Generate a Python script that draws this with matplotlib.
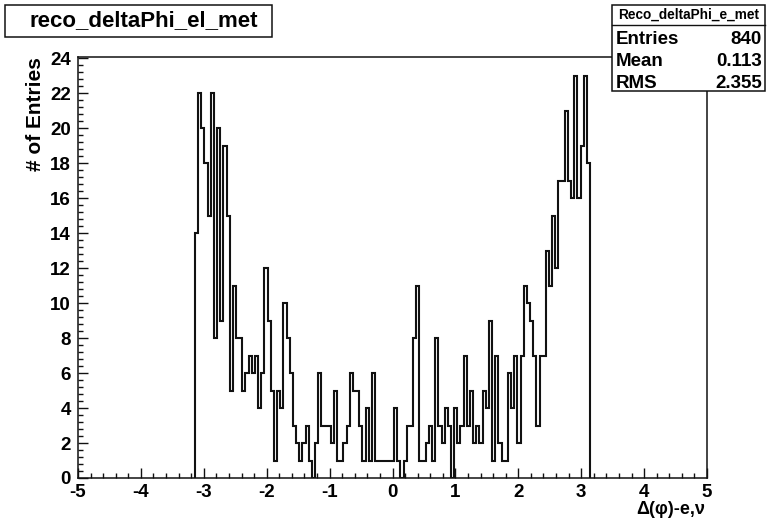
import numpy as np
import matplotlib.pyplot as plt
from matplotlib.patches import Rectangle
from matplotlib.lines import Line2D
from matplotlib.ticker import MultipleLocator

plt.rcParams['font.family'] = ['Liberation Sans', 'DejaVu Sans']
plt.rcParams['axes.unicode_minus'] = False

# bin contents of delta phi(e, met), -pi..pi
counts = [14, 22, 20, 18, 15, 22, 8, 20, 9, 19, 15, 5, 11, 8, 8, 5, 6, 7, 6, 7, 4, 6,
          12, 9, 5, 1, 5, 4, 10, 8, 6, 3, 2, 1, 2, 3, 1, 0, 2, 6, 3, 3, 3,
          2, 5, 1, 1, 2, 3, 6, 5, 5, 3, 1, 4, 1, 6, 1, 1, 1, 1, 1, 1,
          4, 1, 0, 1, 3, 3, 8, 11,
          1, 1, 2, 3, 1, 8, 3, 2, 4, 3, 0, 4, 2, 3, 7, 3, 5, 2, 3, 2, 5, 4, 9, 1, 7, 2,
          1, 1, 6, 4, 7, 2,
          7, 11, 10, 9, 7, 3, 7, 7, 13, 11, 15, 12, 17, 17, 21, 17, 16, 23, 16, 19, 23, 18]
edges = np.linspace(-np.pi, np.pi, len(counts) + 1)

hist_name = 'reco_deltaPhi_el_met'
stats_name = 'Reco_deltaPhi_e_met'
stats = [('Entries', '840'), ('Mean', '0.113'), ('RMS', '2.355')]

W, H = 768, 520
fig = plt.figure(figsize=(W / 100, H / 100), dpi=100)
fig.patch.set_facecolor('white')

ax = fig.add_axes([78 / W, 1 - 478 / H, 629 / W, 421 / H])
ax.stairs(counts, edges, color='#111111', linewidth=1.5, baseline=0)
ax.set_xlim(-5, 5)
ax.set_ylim(0, 24.06)

ax.xaxis.set_major_locator(MultipleLocator(1))
ax.xaxis.set_minor_locator(MultipleLocator(0.2))
ax.yaxis.set_major_locator(MultipleLocator(2))
ax.yaxis.set_minor_locator(MultipleLocator(0.4))
ax.tick_params(which='both', direction='in', top=False, right=False, width=1.0, color='#111111')
ax.tick_params(which='major', length=7)
ax.tick_params(which='minor', length=3.5)
ax.tick_params(axis='x', which='major', pad=4)
ax.tick_params(axis='y', which='major', pad=5)
for lab in ax.get_xticklabels() + ax.get_yticklabels():
    lab.set_fontsize(13.5)
    lab.set_fontweight('bold')
for sp in ax.spines.values():
    sp.set_linewidth(1.1)
    sp.set_color('#111111')

ax.set_ylabel('# of Entries', fontsize=15, fontweight='bold', loc='top', labelpad=4)
fig.text(705 / W, 1 - 509 / H, 'Δ(φ)-e,ν', fontsize=13, fontweight='bold', ha='right', va='center')

# title box
fig.add_artist(Rectangle((5 / W, 1 - 37 / H), 267 / W, 32 / H, transform=fig.transFigure,
                         facecolor='white', edgecolor='#111111', linewidth=1.1))
fig.text(144 / W, 1 - 21 / H, hist_name, fontsize=16, fontweight='bold', ha='center', va='center')

# stats box
fig.add_artist(Rectangle((612 / W, 1 - 91 / H), 153 / W, 86 / H, transform=fig.transFigure,
                         facecolor='white', edgecolor='#111111', linewidth=1.1, zorder=5))
fig.add_artist(Line2D([612 / W, 765 / W], [1 - 25 / H, 1 - 25 / H], transform=fig.transFigure,
                      color='#111111', linewidth=1.0, zorder=6))
fig.text(689 / W, 1 - 15 / H, stats_name, fontsize=9.8, fontweight='bold', ha='center', va='center', zorder=7)
for i, (name, val) in enumerate(stats):
    y = 1 - (39 + 22 * i) / H
    fig.text(616 / W, y, name, fontsize=13.5, fontweight='bold', ha='left', va='center', zorder=7)
    fig.text(762 / W, y, val, fontsize=13.5, fontweight='bold', ha='right', va='center', zorder=7)

fig.savefig('out.png', dpi=100)
